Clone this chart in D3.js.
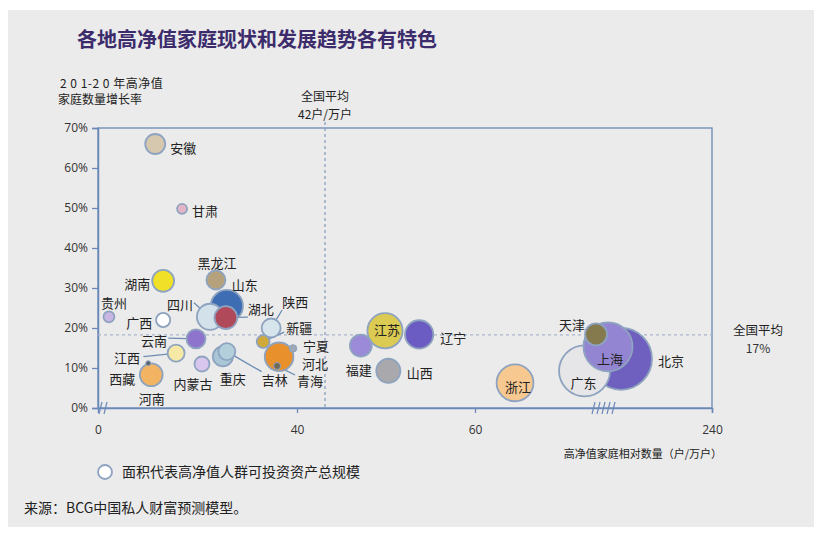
<!DOCTYPE html>
<html><head><meta charset="utf-8">
<script src="https://cdn.jsdelivr.net/npm/d3@7"></script>
<style>
html,body{margin:0;padding:0;background:#fff;}
svg{display:block;font-family:"Noto Sans CJK SC","Noto Sans",sans-serif;}
</style></head>
<body>
<svg id="chart" width="822" height="539"></svg>
<script>
// ---- data ----
const provinces = ["北京","广东","上海","天津","浙江","江苏","辽宁","福建","山西","安徽","甘肃","湖南","黑龙江","山东","四川","湖北","广西","贵州","陕西","新疆","河北","宁夏","青海","重庆","吉林","内蒙古","云南","江西","河南","西藏"];
// 高净值家庭相对数量（户/万户）
const density = [170.9,143.2,161.0,151.9,90.4,49.2,53.3,46.3,49.6,11.5,16.9,13.1,23.7,25.9,22.5,25.7,13.1,2.2,34.8,33.2,36.4,39.2,36.0,25.1,25.9,20.9,19.7,15.7,10.7,10.1];
// 高净值家庭数量增长率（%）
const growth = [12.3,9.3,15.3,18.4,6.3,19.3,18.4,15.6,9.3,66.0,49.8,31.8,32.0,25.5,22.8,22.6,22.0,22.8,20.0,16.6,12.8,14.9,10.5,12.9,14.1,11.0,17.3,13.7,8.3,11.2];
// 可投资资产总规模（相对值）
const assets = [9.6,6.5,6.0,1.2,3.4,3.1,2.0,1.2,1.45,1.0,0.25,1.2,0.9,2.6,1.7,1.3,0.5,0.3,0.9,0.42,2.05,0.14,0.12,1.0,0.72,0.56,0.9,0.72,1.3,0.06];
const colors = ["#6f60bf","#e6e6e8","#9385d2","#857a4e","#f8c891","#dccb52","#6a5cc3","#9a8ad8","#a9a9ad","#d6c8ae","#e3b4c7","#f0e028","#b5a27c","#3e6db3","#d3e1ea","#b04a5a","#ffffff","#c9b6e4","#d6e4ec","#cfa939","#e8902c","#9fa8b6","#6f6a56","#a9c6d6","#b4cfdc","#d8c6ee","#8e74cc","#f6e9a6","#f2b462","#5e6370"];
const xTicks = [0,40,60,240];
const yTicks = [0,10,20,30,40,50,60,70];
const avgDensity = 42;      // 全国平均 42户/万户
const avgGrowthLine = 18.3;  // 全国平均线
const avgGrowthLabel = "17%";

// ---- label layout (offsets from bubble centre) ----
const labelLayout = {
  "安徽":[15,8.5,"start"],"甘肃":[10,7.5,"start"],"湖南":[-13,8.5,"end"],"黑龙江":[1,-12.5,"middle"],
  "山东":[5,-16.5,"start"],"贵州":[5,-9,"middle"],"四川":[-17,-6.5,"end"],"广西":[-11,8,"end"],
  "湖北":[22,-3.5,"start"],"陕西":[11,-21.5,"start"],"新疆":[23,-8.5,"start"],"宁夏":[10,2.5,"start"],
  "河北":[23,12,"start"],"青海":[20,20,"start"],"吉林":[35,33.8,"start"],"重庆":[10,27.5,"middle"],
  "内蒙古":[-9,24.5,"middle"],"云南":[-29,7,"end"],"江西":[-36,9.7,"end"],"西藏":[-13,21,"end"],
  "河南":[0.5,29.5,"middle"],"福建":[-2,29,"middle"],"江苏":[2,4.5,"middle"],"辽宁":[21,8.7,"start"],
  "山西":[18.4,7.5,"start"],"浙江":[3,8.8,"middle"],"广东":[-1,17,"middle"],"上海":[2,17.5,"middle"],
  "北京":[37,7,"start"],"天津":[-11,-4,"end"]
};
const leaders = {
  "山东":[9,-14],"四川":[-16,-14],"湖北":[22,-0.5],"陕西":[11,-18],"新疆":[21,-9.5],
  "青海":[18,9],"吉林":[34.7,20],"云南":[-27.7,-0.7],"江西":[-32.7,3.4]
};

// ---- drawing ----
const svg = d3.select("#chart");
const frame = "#6a88b8";
svg.append("rect").attr("x",8).attr("y",10).attr("width",806).attr("height",517).attr("fill","#ebebeb");

const x = d3.scaleLinear().domain([0,40,42,60,240]).range([98,297,325,475,712]);
const y = d3.scaleLinear().domain([0,70]).range([408,128]);
const r = d3.scaleSqrt().domain([0,1]).range([0,10]);

// title
svg.append("text").attr("x",77).attr("y",47).attr("font-size",20).attr("font-weight","bold")
  .attr("fill","#3c2c6c").text("各地高净值家庭现状和发展趋势各有特色");

// y axis title (two lines)
const yt = svg.append("text").attr("font-size",12).attr("fill","#222");
yt.append("tspan").attr("x",60).attr("y",88).attr("letter-spacing","0.5").text("2 0 1-2 0 年高净值");
yt.append("tspan").attr("x",58).attr("y",104).text("家庭数量增长率");

// frame
svg.append("rect").attr("x",x(0)).attr("y",y(70)).attr("width",x(240)-x(0)).attr("height",y(0)-y(70))
  .attr("fill","none").attr("stroke",frame).attr("stroke-width",1.3);

// y axis
const yAxis = d3.axisLeft(y).tickValues(yTicks).tickSize(6).tickPadding(4).tickFormat(d=>d+"%");
const gy = svg.append("g").attr("transform",`translate(${x(0)},0)`).call(yAxis);
gy.select(".domain").attr("stroke",frame).attr("stroke-width",1.5);
gy.selectAll(".tick line").attr("stroke",frame).attr("stroke-width",1.3);
gy.selectAll(".tick text").attr("font-size",12).attr("fill","#333").attr("font-family","'Open Sans',sans-serif");

// x axis
const xAxis = d3.axisBottom(x).tickValues(xTicks).tickSize(5).tickPadding(12).tickFormat(d=>d);
const gx = svg.append("g").attr("transform",`translate(0,${y(0)})`).call(xAxis);
gx.select(".domain").attr("stroke",frame).attr("stroke-width",1.5);
gx.selectAll(".tick line").attr("stroke",frame).attr("stroke-width",1.3).attr("opacity",d=>d===0?0:1);
gx.selectAll(".tick text").attr("font-size",12).attr("fill","#333").attr("font-family","'Open Sans',sans-serif");

// break marks
function breaks(x0,n){
  for(let i=0;i<n;i++){
    svg.append("line").attr("x1",x0+i*5).attr("y1",y(0)+6).attr("x2",x0+i*5+3).attr("y2",y(0)-6)
      .attr("stroke",frame).attr("stroke-width",1.2);
  }
}
breaks(99,2);
breaks(592,5);

// average lines
svg.append("line").attr("x1",x(avgDensity)).attr("x2",x(avgDensity)).attr("y1",122).attr("y2",y(0))
  .attr("stroke","#8aa0c0").attr("stroke-width",1.3).attr("stroke-dasharray","3,3");
svg.append("line").attr("x1",x(0)).attr("x2",x(240)).attr("y1",y(avgGrowthLine)).attr("y2",y(avgGrowthLine))
  .attr("stroke","#a9b6cc").attr("stroke-width",1.3).attr("stroke-dasharray","3,3");

svg.append("text").attr("x",x(avgDensity)).attr("y",101).attr("text-anchor","middle").attr("font-size",12).attr("fill","#222").text("全国平均");
svg.append("text").attr("x",x(avgDensity)).attr("y",119).attr("text-anchor","middle").attr("font-size",12).attr("fill","#222").text(avgDensity+"户/万户");
svg.append("text").attr("x",758).attr("y",335).attr("text-anchor","middle").attr("font-size",12.5).attr("fill","#222").text("全国平均");
svg.append("text").attr("x",758).attr("y",353).attr("text-anchor","middle").attr("font-size",12).attr("fill","#333").text(avgGrowthLabel);

// x axis title
svg.append("text").attr("x",722).attr("y",458).attr("text-anchor","end").attr("font-size",11).attr("fill","#222")
  .text("高净值家庭相对数量（户/万户）");

// data
const data = provinces.map((p,i)=>({name:p,dx:density[i],gy:growth[i],a:assets[i],c:colors[i]}));

// leader lines
const gl = svg.append("g");
data.forEach(d=>{
  const L = leaders[d.name]; if(!L) return;
  const cx = x(d.dx), cy = y(d.gy), rr = r(d.a);
  const len = Math.hypot(L[0],L[1]);
  gl.append("line").attr("x1",cx+L[0]).attr("y1",cy+L[1])
    .attr("x2",cx+L[0]/len*rr).attr("y2",cy+L[1]/len*rr)
    .attr("stroke","#6d8cb3").attr("stroke-width",1.3);
});

// bubbles
svg.append("g").selectAll("circle").data(data).join("circle")
  .attr("cx",d=>x(d.dx)).attr("cy",d=>y(d.gy)).attr("r",d=>r(d.a))
  .attr("fill",d=>d.c).attr("stroke","#8ea3bf").attr("stroke-width",d=>r(d.a)<4?1:1.8);

// labels
svg.append("g").selectAll("text").data(data).join("text")
  .attr("x",d=>x(d.dx)+labelLayout[d.name][0])
  .attr("y",d=>y(d.gy)+labelLayout[d.name][1])
  .attr("text-anchor",d=>labelLayout[d.name][2])
  .attr("font-size",13).attr("fill","#222").text(d=>d.name);

// legend
svg.append("circle").attr("cx",105).attr("cy",472).attr("r",7).attr("fill","#fff").attr("stroke","#8ea3bf").attr("stroke-width",1.8);
svg.append("text").attr("x",122).attr("y",477).attr("font-size",14).attr("fill","#222").text("面积代表高净值人群可投资资产总规模");

// source
svg.append("text").attr("x",24).attr("y",513).attr("font-size",14).attr("fill","#222").text("来源：BCG中国私人财富预测模型。");
</script>
</body></html>
